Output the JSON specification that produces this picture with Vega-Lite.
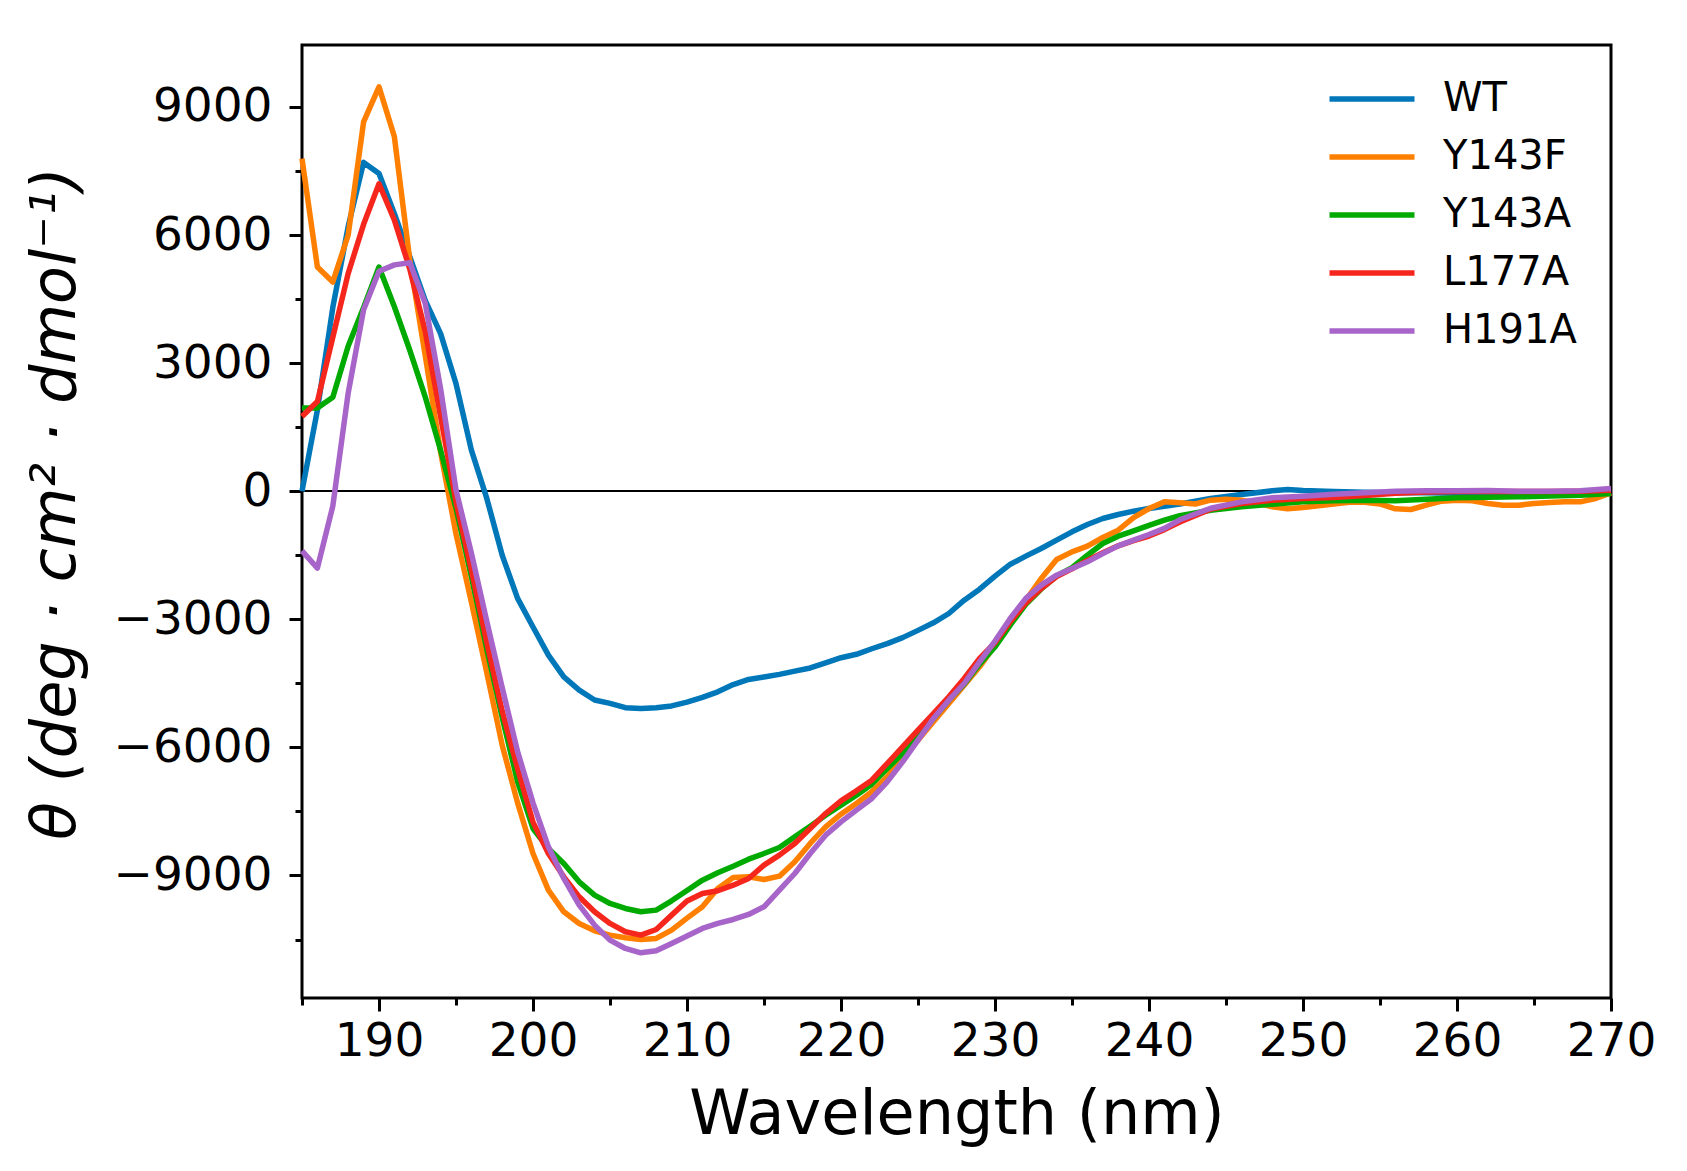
{
  "$schema": "https://vega.github.io/schema/vega-lite/v6.json",
  "autosize": "none",
  "width": 1309,
  "height": 953,
  "padding": {"left": 302, "top": 45, "right": 76, "bottom": 173},
  "background": "white",
  "config": {
    "view": {"stroke": "black", "strokeWidth": 3},
    "font": "DejaVu Sans"
  },
  "datasets": {
    "cd": [
      {"s":"WT","w":185,"v":0},{"s":"WT","w":186,"v":1900},{"s":"WT","w":187,"v":4300},{"s":"WT","w":188,"v":6200},{"s":"WT","w":189,"v":7700},{"s":"WT","w":190,"v":7440},{"s":"WT","w":191,"v":6500},{"s":"WT","w":192,"v":5490},{"s":"WT","w":193,"v":4470},{"s":"WT","w":194,"v":3690},{"s":"WT","w":195,"v":2520},{"s":"WT","w":196,"v":960},{"s":"WT","w":197,"v":-170},{"s":"WT","w":198,"v":-1500},{"s":"WT","w":199,"v":-2510},{"s":"WT","w":200,"v":-3180},{"s":"WT","w":201,"v":-3840},{"s":"WT","w":202,"v":-4350},{"s":"WT","w":203,"v":-4660},{"s":"WT","w":204,"v":-4890},{"s":"WT","w":205,"v":-4970},{"s":"WT","w":206,"v":-5070},{"s":"WT","w":207,"v":-5090},{"s":"WT","w":208,"v":-5070},{"s":"WT","w":209,"v":-5030},{"s":"WT","w":210,"v":-4940},{"s":"WT","w":211,"v":-4830},{"s":"WT","w":212,"v":-4700},{"s":"WT","w":213,"v":-4530},{"s":"WT","w":214,"v":-4410},{"s":"WT","w":215,"v":-4350},{"s":"WT","w":216,"v":-4290},{"s":"WT","w":217,"v":-4215},{"s":"WT","w":218,"v":-4140},{"s":"WT","w":219,"v":-4020},{"s":"WT","w":220,"v":-3900},{"s":"WT","w":221,"v":-3820},{"s":"WT","w":222,"v":-3690},{"s":"WT","w":223,"v":-3570},{"s":"WT","w":224,"v":-3430},{"s":"WT","w":225,"v":-3260},{"s":"WT","w":226,"v":-3083},{"s":"WT","w":227,"v":-2865},{"s":"WT","w":228,"v":-2553},{"s":"WT","w":229,"v":-2295},{"s":"WT","w":230,"v":-1990},{"s":"WT","w":231,"v":-1710},{"s":"WT","w":232,"v":-1522},{"s":"WT","w":233,"v":-1343},{"s":"WT","w":234,"v":-1147},{"s":"WT","w":235,"v":-952},{"s":"WT","w":236,"v":-781},{"s":"WT","w":237,"v":-640},{"s":"WT","w":238,"v":-546},{"s":"WT","w":239,"v":-468},{"s":"WT","w":240,"v":-406},{"s":"WT","w":241,"v":-351},{"s":"WT","w":242,"v":-300},{"s":"WT","w":244,"v":-172},{"s":"WT","w":246,"v":-78},{"s":"WT","w":248,"v":8},{"s":"WT","w":249,"v":39},{"s":"WT","w":250,"v":16},{"s":"WT","w":252,"v":-8},{"s":"WT","w":254,"v":-23},{"s":"WT","w":256,"v":-39},{"s":"WT","w":258,"v":-39},{"s":"WT","w":260,"v":-50},{"s":"WT","w":262,"v":-60},{"s":"WT","w":264,"v":-40},{"s":"WT","w":266,"v":-30},{"s":"WT","w":268,"v":-20},{"s":"WT","w":270,"v":30},

      {"s":"Y143F","w":185,"v":7790},{"s":"Y143F","w":186,"v":5250},{"s":"Y143F","w":187,"v":4900},{"s":"Y143F","w":188,"v":6000},{"s":"Y143F","w":189,"v":8650},{"s":"Y143F","w":190,"v":9470},{"s":"Y143F","w":191,"v":8300},{"s":"Y143F","w":192,"v":5410},{"s":"Y143F","w":193,"v":3185},{"s":"Y143F","w":194,"v":920},{"s":"Y143F","w":195,"v":-1000},{"s":"Y143F","w":196,"v":-2600},{"s":"Y143F","w":197,"v":-4250},{"s":"Y143F","w":198,"v":-5950},{"s":"Y143F","w":199,"v":-7300},{"s":"Y143F","w":200,"v":-8485},{"s":"Y143F","w":201,"v":-9344},{"s":"Y143F","w":202,"v":-9851},{"s":"Y143F","w":203,"v":-10124},{"s":"Y143F","w":204,"v":-10296},{"s":"Y143F","w":205,"v":-10397},{"s":"Y143F","w":206,"v":-10460},{"s":"Y143F","w":207,"v":-10499},{"s":"Y143F","w":208,"v":-10475},{"s":"Y143F","w":209,"v":-10280},{"s":"Y143F","w":210,"v":-10000},{"s":"Y143F","w":211,"v":-9734},{"s":"Y143F","w":212,"v":-9305},{"s":"Y143F","w":213,"v":-9048},{"s":"Y143F","w":214,"v":-9032},{"s":"Y143F","w":215,"v":-9094},{"s":"Y143F","w":216,"v":-9016},{"s":"Y143F","w":217,"v":-8680},{"s":"Y143F","w":218,"v":-8251},{"s":"Y143F","w":219,"v":-7861},{"s":"Y143F","w":220,"v":-7564},{"s":"Y143F","w":221,"v":-7314},{"s":"Y143F","w":222,"v":-7041},{"s":"Y143F","w":223,"v":-6690},{"s":"Y143F","w":224,"v":-6261},{"s":"Y143F","w":225,"v":-5831},{"s":"Y143F","w":226,"v":-5402},{"s":"Y143F","w":227,"v":-4972},{"s":"Y143F","w":228,"v":-4543},{"s":"Y143F","w":229,"v":-4114},{"s":"Y143F","w":230,"v":-3606},{"s":"Y143F","w":231,"v":-3099},{"s":"Y143F","w":232,"v":-2553},{"s":"Y143F","w":233,"v":-2045},{"s":"Y143F","w":234,"v":-1600},{"s":"Y143F","w":235,"v":-1421},{"s":"Y143F","w":236,"v":-1288},{"s":"Y143F","w":237,"v":-1085},{"s":"Y143F","w":238,"v":-913},{"s":"Y143F","w":239,"v":-617},{"s":"Y143F","w":240,"v":-406},{"s":"Y143F","w":241,"v":-250},{"s":"Y143F","w":242,"v":-270},{"s":"Y143F","w":243,"v":-300},{"s":"Y143F","w":244,"v":-211},{"s":"Y143F","w":245,"v":-187},{"s":"Y143F","w":246,"v":-211},{"s":"Y143F","w":247,"v":-273},{"s":"Y143F","w":248,"v":-367},{"s":"Y143F","w":249,"v":-414},{"s":"Y143F","w":250,"v":-383},{"s":"Y143F","w":251,"v":-340},{"s":"Y143F","w":252,"v":-300},{"s":"Y143F","w":253,"v":-260},{"s":"Y143F","w":254,"v":-260},{"s":"Y143F","w":255,"v":-300},{"s":"Y143F","w":256,"v":-414},{"s":"Y143F","w":257,"v":-429},{"s":"Y143F","w":258,"v":-328},{"s":"Y143F","w":259,"v":-234},{"s":"Y143F","w":260,"v":-211},{"s":"Y143F","w":261,"v":-226},{"s":"Y143F","w":262,"v":-289},{"s":"Y143F","w":263,"v":-328},{"s":"Y143F","w":264,"v":-328},{"s":"Y143F","w":265,"v":-289},{"s":"Y143F","w":266,"v":-265},{"s":"Y143F","w":267,"v":-250},{"s":"Y143F","w":268,"v":-250},{"s":"Y143F","w":269,"v":-172},{"s":"Y143F","w":270,"v":-40},

      {"s":"Y143A","w":185,"v":1950},{"s":"Y143A","w":186,"v":1950},{"s":"Y143A","w":187,"v":2200},{"s":"Y143A","w":188,"v":3400},{"s":"Y143A","w":189,"v":4300},{"s":"Y143A","w":190,"v":5250},{"s":"Y143A","w":191,"v":4320},{"s":"Y143A","w":192,"v":3300},{"s":"Y143A","w":193,"v":2210},{"s":"Y143A","w":194,"v":960},{"s":"Y143A","w":195,"v":-400},{"s":"Y143A","w":196,"v":-2000},{"s":"Y143A","w":197,"v":-3700},{"s":"Y143A","w":198,"v":-5300},{"s":"Y143A","w":199,"v":-6800},{"s":"Y143A","w":200,"v":-7900},{"s":"Y143A","w":201,"v":-8368},{"s":"Y143A","w":202,"v":-8719},{"s":"Y143A","w":203,"v":-9149},{"s":"Y143A","w":204,"v":-9461},{"s":"Y143A","w":205,"v":-9656},{"s":"Y143A","w":206,"v":-9773},{"s":"Y143A","w":207,"v":-9851},{"s":"Y143A","w":208,"v":-9812},{"s":"Y143A","w":209,"v":-9594},{"s":"Y143A","w":210,"v":-9350},{"s":"Y143A","w":211,"v":-9110},{"s":"Y143A","w":212,"v":-8938},{"s":"Y143A","w":213,"v":-8782},{"s":"Y143A","w":214,"v":-8618},{"s":"Y143A","w":215,"v":-8485},{"s":"Y143A","w":216,"v":-8345},{"s":"Y143A","w":217,"v":-8095},{"s":"Y143A","w":218,"v":-7845},{"s":"Y143A","w":219,"v":-7588},{"s":"Y143A","w":220,"v":-7353},{"s":"Y143A","w":221,"v":-7119},{"s":"Y143A","w":222,"v":-6862},{"s":"Y143A","w":223,"v":-6495},{"s":"Y143A","w":224,"v":-6143},{"s":"Y143A","w":225,"v":-5753},{"s":"Y143A","w":226,"v":-5324},{"s":"Y143A","w":227,"v":-4894},{"s":"Y143A","w":228,"v":-4520},{"s":"Y143A","w":229,"v":-4050},{"s":"Y143A","w":230,"v":-3650},{"s":"Y143A","w":231,"v":-3130},{"s":"Y143A","w":232,"v":-2650},{"s":"Y143A","w":233,"v":-2290},{"s":"Y143A","w":234,"v":-1987},{"s":"Y143A","w":235,"v":-1790},{"s":"Y143A","w":236,"v":-1499},{"s":"Y143A","w":237,"v":-1226},{"s":"Y143A","w":238,"v":-1054},{"s":"Y143A","w":239,"v":-929},{"s":"Y143A","w":240,"v":-800},{"s":"Y143A","w":241,"v":-680},{"s":"Y143A","w":242,"v":-575},{"s":"Y143A","w":244,"v":-445},{"s":"Y143A","w":246,"v":-367},{"s":"Y143A","w":248,"v":-304},{"s":"Y143A","w":250,"v":-250},{"s":"Y143A","w":252,"v":-226},{"s":"Y143A","w":254,"v":-211},{"s":"Y143A","w":256,"v":-226},{"s":"Y143A","w":258,"v":-187},{"s":"Y143A","w":260,"v":-156},{"s":"Y143A","w":262,"v":-140},{"s":"Y143A","w":264,"v":-133},{"s":"Y143A","w":266,"v":-110},{"s":"Y143A","w":268,"v":-94},{"s":"Y143A","w":270,"v":-55},

      {"s":"L177A","w":185,"v":1750},{"s":"L177A","w":186,"v":2100},{"s":"L177A","w":187,"v":3600},{"s":"L177A","w":188,"v":5100},{"s":"L177A","w":189,"v":6250},{"s":"L177A","w":190,"v":7200},{"s":"L177A","w":191,"v":6350},{"s":"L177A","w":192,"v":5200},{"s":"L177A","w":193,"v":3750},{"s":"L177A","w":194,"v":1750},{"s":"L177A","w":195,"v":-250},{"s":"L177A","w":196,"v":-1850},{"s":"L177A","w":197,"v":-3550},{"s":"L177A","w":198,"v":-5150},{"s":"L177A","w":199,"v":-6500},{"s":"L177A","w":200,"v":-7750},{"s":"L177A","w":201,"v":-8485},{"s":"L177A","w":202,"v":-9032},{"s":"L177A","w":203,"v":-9500},{"s":"L177A","w":204,"v":-9851},{"s":"L177A","w":205,"v":-10124},{"s":"L177A","w":206,"v":-10319},{"s":"L177A","w":207,"v":-10397},{"s":"L177A","w":208,"v":-10265},{"s":"L177A","w":209,"v":-9929},{"s":"L177A","w":210,"v":-9600},{"s":"L177A","w":211,"v":-9422},{"s":"L177A","w":212,"v":-9359},{"s":"L177A","w":213,"v":-9227},{"s":"L177A","w":214,"v":-9071},{"s":"L177A","w":215,"v":-8758},{"s":"L177A","w":216,"v":-8524},{"s":"L177A","w":217,"v":-8251},{"s":"L177A","w":218,"v":-7900},{"s":"L177A","w":219,"v":-7549},{"s":"L177A","w":220,"v":-7252},{"s":"L177A","w":221,"v":-7018},{"s":"L177A","w":222,"v":-6768},{"s":"L177A","w":223,"v":-6378},{"s":"L177A","w":224,"v":-5987},{"s":"L177A","w":225,"v":-5597},{"s":"L177A","w":226,"v":-5207},{"s":"L177A","w":227,"v":-4816},{"s":"L177A","w":228,"v":-4387},{"s":"L177A","w":229,"v":-3919},{"s":"L177A","w":230,"v":-3550},{"s":"L177A","w":231,"v":-3050},{"s":"L177A","w":232,"v":-2620},{"s":"L177A","w":233,"v":-2280},{"s":"L177A","w":234,"v":-2000},{"s":"L177A","w":235,"v":-1820},{"s":"L177A","w":236,"v":-1620},{"s":"L177A","w":237,"v":-1440},{"s":"L177A","w":238,"v":-1280},{"s":"L177A","w":239,"v":-1160},{"s":"L177A","w":240,"v":-1050},{"s":"L177A","w":241,"v":-900},{"s":"L177A","w":242,"v":-720},{"s":"L177A","w":244,"v":-420},{"s":"L177A","w":246,"v":-290},{"s":"L177A","w":248,"v":-210},{"s":"L177A","w":250,"v":-170},{"s":"L177A","w":252,"v":-150},{"s":"L177A","w":254,"v":-100},{"s":"L177A","w":256,"v":-50},{"s":"L177A","w":258,"v":-20},{"s":"L177A","w":260,"v":-10},{"s":"L177A","w":262,"v":-10},{"s":"L177A","w":264,"v":-10},{"s":"L177A","w":266,"v":-5},{"s":"L177A","w":268,"v":0},{"s":"L177A","w":270,"v":20},

      {"s":"H191A","w":185,"v":-1400},{"s":"H191A","w":186,"v":-1800},{"s":"H191A","w":187,"v":-350},{"s":"H191A","w":188,"v":2300},{"s":"H191A","w":189,"v":4250},{"s":"H191A","w":190,"v":5150},{"s":"H191A","w":191,"v":5300},{"s":"H191A","w":192,"v":5350},{"s":"H191A","w":193,"v":4400},{"s":"H191A","w":194,"v":2400},{"s":"H191A","w":195,"v":30},{"s":"H191A","w":196,"v":-1450},{"s":"H191A","w":197,"v":-3050},{"s":"H191A","w":198,"v":-4600},{"s":"H191A","w":199,"v":-6100},{"s":"H191A","w":200,"v":-7300},{"s":"H191A","w":201,"v":-8329},{"s":"H191A","w":202,"v":-9071},{"s":"H191A","w":203,"v":-9695},{"s":"H191A","w":204,"v":-10164},{"s":"H191A","w":205,"v":-10515},{"s":"H191A","w":206,"v":-10710},{"s":"H191A","w":207,"v":-10811},{"s":"H191A","w":208,"v":-10765},{"s":"H191A","w":209,"v":-10593},{"s":"H191A","w":210,"v":-10420},{"s":"H191A","w":211,"v":-10241},{"s":"H191A","w":212,"v":-10124},{"s":"H191A","w":213,"v":-10031},{"s":"H191A","w":214,"v":-9914},{"s":"H191A","w":215,"v":-9734},{"s":"H191A","w":216,"v":-9344},{"s":"H191A","w":217,"v":-8954},{"s":"H191A","w":218,"v":-8485},{"s":"H191A","w":219,"v":-8056},{"s":"H191A","w":220,"v":-7744},{"s":"H191A","w":221,"v":-7471},{"s":"H191A","w":222,"v":-7197},{"s":"H191A","w":223,"v":-6807},{"s":"H191A","w":224,"v":-6339},{"s":"H191A","w":225,"v":-5831},{"s":"H191A","w":226,"v":-5324},{"s":"H191A","w":227,"v":-4894},{"s":"H191A","w":228,"v":-4504},{"s":"H191A","w":229,"v":-3997},{"s":"H191A","w":230,"v":-3510},{"s":"H191A","w":231,"v":-2975},{"s":"H191A","w":232,"v":-2510},{"s":"H191A","w":233,"v":-2200},{"s":"H191A","w":234,"v":-1967},{"s":"H191A","w":235,"v":-1811},{"s":"H191A","w":236,"v":-1655},{"s":"H191A","w":237,"v":-1460},{"s":"H191A","w":238,"v":-1280},{"s":"H191A","w":239,"v":-1147},{"s":"H191A","w":240,"v":-1015},{"s":"H191A","w":241,"v":-870},{"s":"H191A","w":242,"v":-670},{"s":"H191A","w":244,"v":-400},{"s":"H191A","w":246,"v":-250},{"s":"H191A","w":248,"v":-156},{"s":"H191A","w":250,"v":-117},{"s":"H191A","w":252,"v":-70},{"s":"H191A","w":254,"v":-39},{"s":"H191A","w":256,"v":0},{"s":"H191A","w":258,"v":10},{"s":"H191A","w":260,"v":10},{"s":"H191A","w":262,"v":15},{"s":"H191A","w":264,"v":0},{"s":"H191A","w":266,"v":0},{"s":"H191A","w":268,"v":10},{"s":"H191A","w":270,"v":63}
    ]
  },
  "data": {"name": "cd"},
  "layer": [
    {
      "mark": {"type": "rule", "stroke": "black", "strokeWidth": 1.8},
      "encoding": {"y": {"datum": 0}}
    },
    {
      "mark": {"type": "line", "strokeWidth": 5.5, "strokeJoin": "round", "strokeCap": "butt"},
      "encoding": {
        "x": {
          "field": "w", "type": "quantitative",
          "scale": {"domain": [185, 270], "nice": false, "zero": false},
          "axis": {
            "values": [185,190,195,200,205,210,215,220,225,230,235,240,245,250,255,260,265,270],
            "labelExpr": "datum.value % 10 === 0 ? datum.label : ''",
            "format": "d",
            "tickSize": {"condition": {"test": "datum.value % 10 === 0", "value": 13}, "value": 7},
            "tickWidth": 3, "tickColor": "black",
            "domain": false, "grid": false,
            "labelFont": "DejaVu Sans", "labelFontSize": 47, "labelColor": "black",
            "labelPadding": 7, "labelOverlap": false, "labelFlush": false,
            "title": "Wavelength (nm)",
            "titleFont": "DejaVu Sans", "titleFontSize": 62, "titleFontWeight": "normal",
            "titleColor": "black", "titlePadding": 20
          }
        },
        "y": {
          "field": "v", "type": "quantitative",
          "scale": {"domain": [-11870, 10450], "nice": false, "zero": false},
          "axis": {
            "values": [-10500,-9000,-7500,-6000,-4500,-3000,-1500,0,1500,3000,4500,6000,7500,9000],
            "labelExpr": "datum.value % 3000 === 0 ? datum.label : ''",
            "format": "d",
            "tickSize": {"condition": {"test": "datum.value % 3000 === 0", "value": 13}, "value": 7},
            "tickWidth": 3, "tickColor": "black",
            "domain": false, "grid": false,
            "labelFont": "DejaVu Sans", "labelFontSize": 47, "labelColor": "black",
            "labelPadding": 17, "labelOverlap": false, "labelFlush": false,
            "title": "θ (deg · cm² · dmol⁻¹)",
            "titleFont": "DejaVu Sans", "titleFontSize": 62, "titleFontWeight": "normal",
            "titleFontStyle": "italic", "titleColor": "black", "titlePadding": 26,
            "titleY": 458
          }
        },
        "color": {
          "field": "s", "type": "nominal",
          "scale": {
            "domain": ["WT", "Y143F", "Y143A", "L177A", "H191A"],
            "range": ["#0077b8", "#ff7f00", "#00aa00", "#f5261c", "#a865c9"]
          },
          "legend": {
            "title": null,
            "orient": "none",
            "legendX": 1046,
            "legendY": 30,
            "symbolType": "M-2,0H2",
            "symbolSize": 1806,
            "symbolStrokeWidth": 5.5,
            "labelFont": "DejaVu Sans",
            "labelFontSize": 40,
            "labelColor": "black",
            "labelOffset": 47,
            "rowPadding": 14,
            "padding": 0
          }
        },
        "order": {"field": "w", "type": "quantitative"}
      }
    }
  ]
}
